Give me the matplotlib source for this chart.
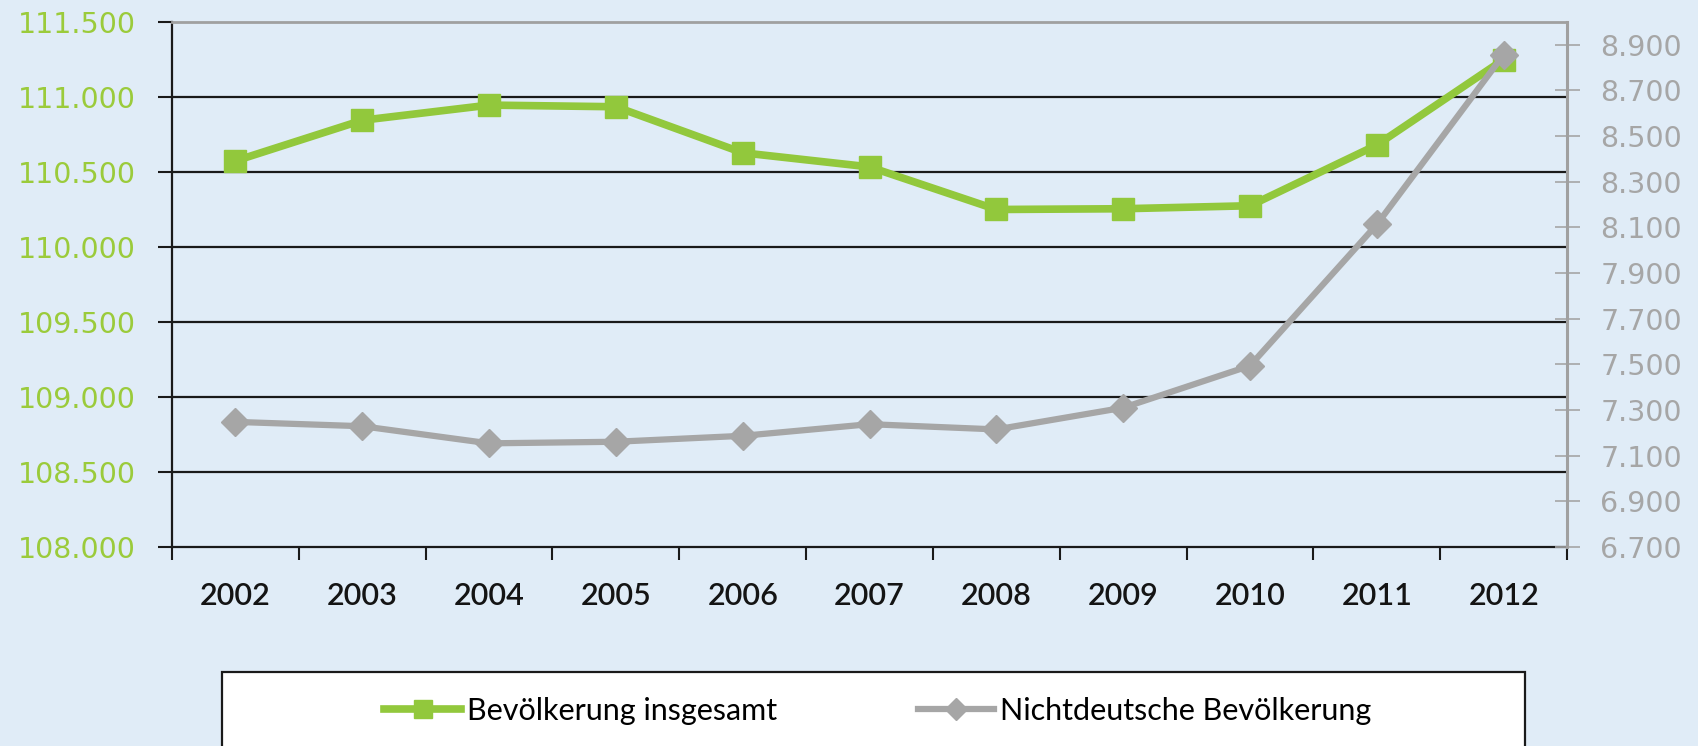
import matplotlib.pyplot as plt
from matplotlib.patches import Rectangle
from matplotlib.ticker import FixedLocator, FuncFormatter

years = ['2002', '2003', '2004', '2005', '2006', '2007', '2008', '2009', '2010', '2011', '2012']
bev_gesamt = [110574, 110845, 110946, 110935, 110628, 110534, 110250, 110255, 110275, 110680, 111250]
bev_nichtdeutsch = [7248, 7229, 7154, 7161, 7187, 7238, 7215, 7310, 7494, 8113, 8857]

left_ticks = list(range(108000, 111501, 500))
right_ticks = list(range(6700, 8901, 200))

GREEN = '#92C83C'
GREEN_TXT = '#9BCB3B'
GRAY = '#A6A6A6'
BG = '#E0ECF7'


def de_fmt(v, pos=None):
    return f"{v:,.0f}".replace(',', '.')


fig = plt.figure(figsize=(16.98, 7.46), dpi=100, facecolor=BG)
ax = fig.add_axes([0.1013, 0.2668, 0.8216, 0.7037])
ax.set_facecolor(BG)
x = list(range(len(years)))

ax.plot(x, bev_gesamt, color=GREEN, lw=5.5, marker='s', ms=16,
        label='Bevölkerung insgesamt', zorder=3)
ax.set_xlim(-0.5, len(years) - 0.5)
ax.set_ylim(108000, 111500)
ax.yaxis.set_major_locator(FixedLocator(left_ticks))
ax.yaxis.set_major_formatter(FuncFormatter(de_fmt))
ax.tick_params(axis='y', colors='#1a1a1a', length=10, width=1.5, pad=16,
               labelsize=20.5, labelcolor=GREEN_TXT)
for t in left_ticks[1:-1]:
    ax.axhline(t, color='#1a1a1a', lw=1.6, zorder=1)

ax.set_xticks(x)
ax.set_xticklabels(years, fontfamily='Lato', fontsize=22, fontweight='semibold',
                   color='#141414')
ax.set_xticks([i - 0.5 for i in range(len(years) + 1)], minor=True)
ax.tick_params(axis='x', which='major', length=0, pad=25)
ax.tick_params(axis='x', which='minor', length=9, width=1.5, color='#1a1a1a', direction='out')

for s in ['left', 'bottom']:
    ax.spines[s].set_color('#1a1a1a')
    ax.spines[s].set_linewidth(1.6)
ax.spines['top'].set_color('#A0A0A0')
ax.spines['top'].set_linewidth(2)
ax.spines['right'].set_visible(False)

ax2 = ax.twinx()
ax2.plot(x, bev_nichtdeutsch, color=GRAY, lw=4.5, marker='D', ms=14,
         label='Nichtdeutsche Bevölkerung', zorder=3)
ax2.set_ylim(6700, 9000)
ax2.yaxis.set_major_locator(FixedLocator(right_ticks))
ax2.yaxis.set_major_formatter(FuncFormatter(de_fmt))
ax2.tick_params(axis='y', colors=GRAY, direction='inout', length=18, width=1.2,
                pad=15, labelsize=20.5, labelcolor=GRAY)
for s in ['left', 'bottom', 'top']:
    ax2.spines[s].set_visible(False)
ax2.spines['right'].set_color('#A0A0A0')
ax2.spines['right'].set_linewidth(2.2)

# legend box
fig.patches.append(Rectangle((0.1307, -0.05), 0.7674, 0.1492, transform=fig.transFigure,
                             facecolor='white', edgecolor='#1a1a1a', lw=1.6, zorder=0))
h1, l1 = ax.get_legend_handles_labels()
h2, l2 = ax2.get_legend_handles_labels()
fig.legend(h1 + h2, l1 + l2, loc='center', bbox_to_anchor=(0.517, 0.047), ncol=2,
           frameon=False, prop={'family': 'Lato', 'size': 22}, handlelength=2.5,
           handletextpad=0.2, columnspacing=4.6, markerscale=0.8)

fig.savefig('out.png', dpi=100, facecolor=BG)
